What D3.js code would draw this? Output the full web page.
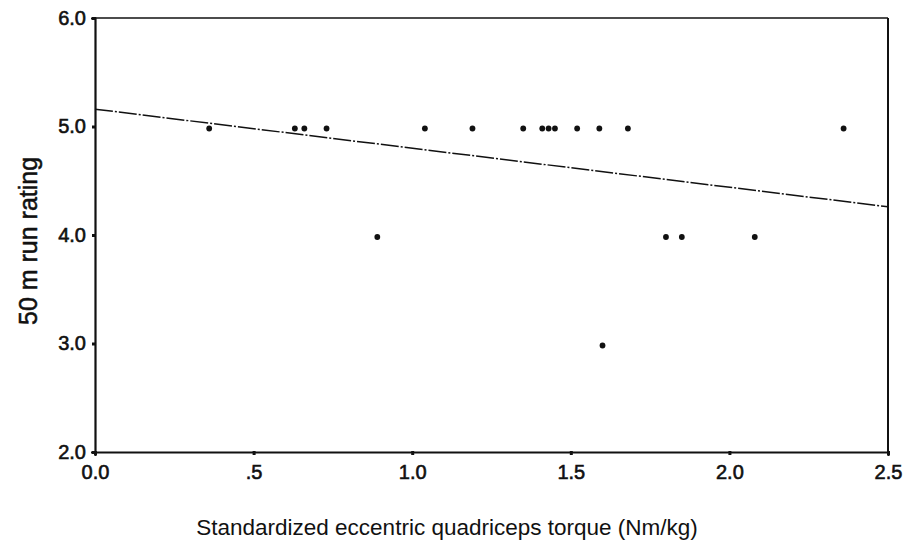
<!DOCTYPE html>
<html>
<head>
<meta charset="utf-8">
<script src="https://cdn.jsdelivr.net/npm/d3@7"></script>
<style>
  body { margin: 0; background: #fff; }
  svg text { font-family: "Liberation Sans", Arial, sans-serif; fill: #111; }
</style>
</head>
<body>
<svg id="canvas"></svg>
<script>
// torque values grouped by 50 m run rating
const torqueRating5 = [0.36, 0.63, 0.66, 0.73, 1.04, 1.19, 1.35, 1.41, 1.43, 1.45, 1.52, 1.59, 1.68, 2.36];
const torqueRating4 = [0.89, 1.80, 1.85, 2.08];
const torqueRating3 = [1.60];
const ratings = [5, 4, 3];

// regression line end points
const fitX = [0, 2.5];
const fitY = [5.16, 4.26];

const xTicks = [0, 0.5, 1.0, 1.5, 2.0, 2.5];
const xTickLabels = ["0.0", ".5", "1.0", "1.5", "2.0", "2.5"];
const yTicks = [2, 3, 4, 5, 6];
const yTickLabels = ["2.0", "3.0", "4.0", "5.0", "6.0"];

function draw() {
  let width = 909;
  let height = 552;

  let svg = d3.select("#canvas")
    .attr("width", width)
    .attr("height", height);

  let margin = { top: 18, right: 21, bottom: 100, left: 95 };
  let w = width - margin.left - margin.right;
  let h = height - margin.top - margin.bottom;

  const g = svg.append("g")
    .attr("transform", `translate(${margin.left},${margin.top})`);

  const x = d3.scaleLinear().domain([0, 2.5]).range([0, w]);
  const y = d3.scaleLinear().domain([2, 6]).range([h, 0]);

  // build points from the arrays
  const groups = [torqueRating5, torqueRating4, torqueRating3];
  const points = [];
  groups.forEach((arr, i) => {
    arr.forEach(v => points.push({ torque: v, rating: ratings[i] }));
  });

  // frame: top and right
  g.append("line")
    .attr("x1", 0).attr("x2", w).attr("y1", 0).attr("y2", 0)
    .attr("stroke", "#111").attr("stroke-width", 1.6);
  g.append("line")
    .attr("x1", w).attr("x2", w).attr("y1", 0).attr("y2", h)
    .attr("stroke", "#111").attr("stroke-width", 2);

  // axes
  const xAxis = g.append("g")
    .attr("transform", `translate(0,${h})`)
    .call(d3.axisBottom(x)
      .tickValues(xTicks)
      .tickSize(4)
      .tickPadding(9)
      .tickFormat((d, i) => xTickLabels[i]));

  const yAxis = g.append("g")
    .call(d3.axisLeft(y)
      .tickValues(yTicks)
      .tickSize(4)
      .tickPadding(5)
      .tickFormat((d, i) => yTickLabels[i]));

  [xAxis, yAxis].forEach(a => {
    a.select(".domain").attr("stroke", "#111").attr("stroke-width", 2.2);
    a.selectAll(".tick line").attr("stroke", "#111").attr("stroke-width", 3);
    a.selectAll(".tick text")
      .attr("font-size", 20)
      .attr("stroke", "#111")
      .attr("stroke-width", 0.6)
      .attr("fill", "#111");
  });
  xAxis.selectAll(".tick line").attr("y1", -1).attr("y2", 3);
  yAxis.selectAll(".tick line").attr("x1", 1).attr("x2", -3);

  // regression line
  const line = d3.line()
    .x(d => x(d[0]))
    .y(d => y(d[1]));
  g.append("path")
    .datum(fitX.map((v, i) => [v, fitY[i]]))
    .attr("fill", "none")
    .attr("stroke", "#111")
    .attr("stroke-width", 1.5)
    .attr("stroke-dasharray", "18,2,2,2")
    .attr("d", line);

  // points
  g.selectAll("circle.pt")
    .data(points)
    .enter()
    .append("circle")
    .attr("class", "pt")
    .attr("cx", d => x(d.torque))
    .attr("cy", d => y(d.rating) + 2)
    .attr("r", 2.9)
    .attr("fill", "#111");

  // axis titles
  svg.append("text")
    .attr("x", 447)
    .attr("y", 535)
    .attr("text-anchor", "middle")
    .attr("font-size", 22.5)
    .text("Standardized eccentric quadriceps torque (Nm/kg)");

  svg.append("text")
    .attr("transform", "translate(37,325) rotate(-90)")
    .attr("text-anchor", "start")
    .attr("font-size", 25)
    .attr("stroke", "#111")
    .attr("stroke-width", 0.5)
    .text("50 m run rating");
}

draw();
</script>
</body>
</html>
